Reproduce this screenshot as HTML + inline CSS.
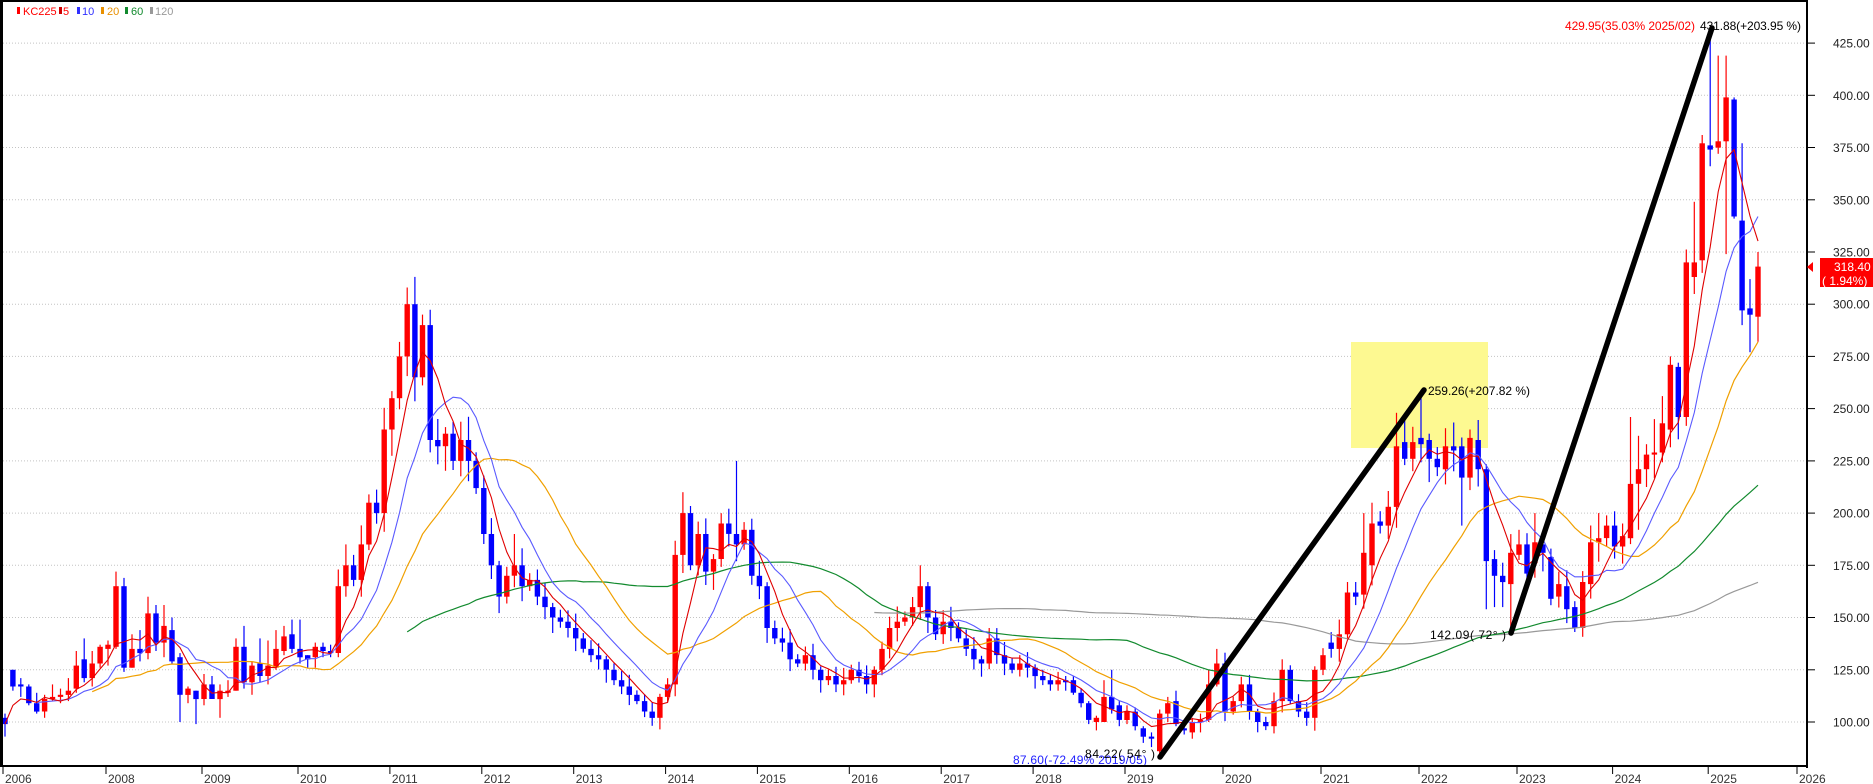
<!DOCTYPE html>
<html><head><meta charset="utf-8"><style>
html,body{margin:0;padding:0;background:#fff;overflow:hidden}
svg{display:block}
text{font-family:"Liberation Sans",sans-serif}
</style></head><body>
<svg id="c" width="1873" height="784" viewBox="0 0 1873 784" xmlns="http://www.w3.org/2000/svg"></svg>
<script>
(function(){
var X=[[0,5],[13,108],[25,204],[37,300],[145,1127],[193,1519],[223,1758],[229,1806]];
function xm(m){for(var k=0;k<X.length-1;k++){var a=X[k],b=X[k+1];if(m<=b[0]){return a[1]+(m-a[0])*(b[1]-a[1])/(b[0]-a[0]);}}return 1806;}
function yv(v){return 722-(v-100)*2.089;}
var D=[];
var A=[[102,104,93,99],[125,125,115,117],[118,121,112,117],[117,118,108,109],[109,114,104,105],[105,113,102,111],[111,118,110,112],[112,116,109,113],[113,121,110,115],[116,134,114,127],[130,140,119,121],[121,134,117,128],[128,137,126,136],[135,139,127,137],[136,172,135,165],[165,169,124,126],[126,142,126,135],[135,144,129,133],[133,160,130,152],[152,156,134,138],[138,156,131,146],[144,150,128,129],[131,133,100,113],[113,117,109,116],[115,115,99,111],[111,123,108,118],[118,122,113,111],[111,118,102,115],[114,120,112,115],[115,140,115,136],[136,146,116,119],[119,129,113,127],[128,140,119,122],[122,139,118,127],[126,144,125,135],[134,146,132,141],[142,149,133,135],[135,149,128,131],[132,132,126,130],[131,138,126,136],[136,138,131,134],[134,137,131,133],[133,173,131,165],[165,185,160,175],[175,180,165,168]];
A.forEach(function(r){D.push(r);});
function wick(i,v){return (2+((i*37)%7)*0.9)*v/150;}
function addC(closes,hov){var prev=D[D.length-1][3];closes.forEach(function(c){var i=D.length,o=prev;var h=Math.max(o,c)+wick(i,c),l=Math.min(o,c)-wick(i+3,c);if(hov&&hov[i]!==undefined)h=hov[i];D.push([o,h,l,c]);prev=c;});}
addC([185,205,200,240,255,275,300,265,290,235,232,238,225,235,225,212,190,175,160,170,175,165,168,160,155,150,148,145,140,135,132,130,125,120,117,113,110,105,102,112,118,180,200,175,190,172,178,195,190,185,192,170,165,145,140,138,130,128,132,125,120,122,118,120,125,122,118,125,135,145,148,150,155,165,150,142,148,145,140,135,130,128,140,132,128,125,128,126,122,120],{51:308,53:295,65:190,87:210,94:225,118:175,127:145});
var B=[[120,123,115,118],[118,124,115,120],[120,122,115,119],[120,122,113,114],[114,116,107,109],[109,110,99,101],[100,103,96,102],[100,120,100,112],[112,125,104,106],[108,110,98,101],[101,108,99,105],[105,107,96,98],[97,98,90,93],[93,95,88,92],[86,106,84,104],[104,112,100,109],[110,115,98,99],[97,100,94,96],[95,102,92,100],[100,104,95,101],[101,125,100,118],[118,135,117,128]];
B.forEach(function(r){D.push(r);});
addC([105,110,118,105,100,98,110,125,110,105,102,125,132],{164:130});
var E=[[138,135],[135,142],[142,162,167],[162,160],[161,181,200],[175,195,205],[196,194],[194,203],[203,232,248],[234,226,245],[226,234],[236,233,259],[235,226],[226,222],[221,232],[232,230],[232,217,null,194],[217,236,240],[235,221],[221,177,null,154],[178,170,null,155],[170,167,null,155],[166,181,null,142],[180,185,192],[185,171],[176,186,200],[185,181],[179,159],[160,166,172],[165,154],[155,145],[145,167],[166,186],[186,188,200],[188,194],[194,184],[184,189,195],[188,214,246],[214,221,237,192],[221,228,233],[228,229,245],[229,243,256],[240,271,275],[270,246,272],[246,320],[313,320,349],[321,377,381,315],[376,374,430,366],[375,378,419,372],[378,399,419,324],[398,342,399,341],[340,297,377,290],[298,295,312,277],[294,318,325,282]];
E.forEach(function(r){var i=D.length,o=r[0],c=r[1];var h=(r[2]!=null)?r[2]:Math.max(o,c)+wick(i,c);var l=(r[3]!=null)?r[3]:Math.min(o,c)-wick(i+3,c);D.push([o,h,l,c]);});

var s='';
s+='<rect x="0" y="0" width="1873" height="784" fill="#fff"/>';
for(var v=100;v<=425;v+=25){var y=yv(v).toFixed(1);s+='<line x1="3" y1="'+y+'" x2="1807" y2="'+y+'" stroke="#c4c4c4" stroke-width="1" stroke-dasharray="1,2"/>';
s+='<line x1="1807" y1="'+y+'" x2="1815" y2="'+y+'" stroke="#000" stroke-width="1"/>';
s+='<text x="1833" y="'+(+y+4.5)+'" font-size="12" fill="#222">'+v.toFixed(2)+'</text>';}
s+='<rect x="1351" y="342" width="137" height="106" fill="#fdf991"/>';
for(var i=0;i<D.length;i++){var d=D[i],x=xm(i),o=d[0],h=d[1],l=d[2],c=d[3];var col=c>=o?'#ff0000':'#0000ff';
s+='<line x1="'+x.toFixed(1)+'" y1="'+yv(h).toFixed(1)+'" x2="'+x.toFixed(1)+'" y2="'+yv(l).toFixed(1)+'" stroke="'+col+'" stroke-width="1.2"/>';
var t=yv(Math.max(o,c)),b=yv(Math.min(o,c));if(b-t<2){t-=1;b=t+2.5;}
s+='<rect x="'+(x-2.7).toFixed(1)+'" y="'+t.toFixed(1)+'" width="5.4" height="'+(b-t).toFixed(1)+'" fill="'+col+'"/>';}
function ma(p,col,w,st){var pts=[];for(var i=st;i<D.length;i++){var sm=0,n=0;for(var k=Math.max(0,i-p+1);k<=i;k++){sm+=D[k][3];n++;}pts.push(xm(i).toFixed(1)+','+yv(sm/n).toFixed(1));}
s+='<polyline points="'+pts.join(' ')+'" fill="none" stroke="'+col+'" stroke-width="'+w+'"/>';}
ma(120,'#999999',1.2,112);ma(60,'#128a2e',1.2,51);ma(20,'#f0a000',1.2,11);ma(10,'#5a5aff',1.1,4);ma(5,'#e00000',1.1,0);
s+='<line x1="1160" y1="757" x2="1424" y2="390" stroke="#000" stroke-width="5.5" stroke-linecap="round"/>';
s+='<line x1="1511" y1="633" x2="1712" y2="28" stroke="#000" stroke-width="5.5" stroke-linecap="round"/>';
s+='<text x="1428" y="395" font-size="12" fill="#000" textLength="102">259.26(+207.82 %)</text>';
s+='<text x="1430" y="639" font-size="12" fill="#000" textLength="76">142.09( 72° )</text>';
s+='<text x="1013" y="764" font-size="12" fill="#2020ff" textLength="134">87.60(-72.49% 2019/05)</text>';
s+='<text x="1085" y="758" font-size="12" fill="#000" textLength="70">84.22( 54° )</text>';
s+='<text x="1565" y="30" font-size="12" fill="#ff0000" textLength="130">429.95(35.03% 2025/02)</text>';
s+='<text x="1700" y="30" font-size="12" fill="#000" textLength="101">431.88(+203.95 %)</text>';
s+='<rect x="0" y="0" width="3" height="766" fill="#000"/>';
s+='<rect x="0" y="0" width="1808" height="2" fill="#000"/>';
s+='<rect x="1806" y="0" width="2" height="768" fill="#000"/>';
s+='<rect x="0" y="765" width="1808" height="2" fill="#000"/>';
s+='<polygon points="1807,267 1813,262 1813,272" fill="#ff0000"/>';
s+='<rect x="1820" y="258" width="53" height="29" fill="#ff0000"/>';
s+='<text x="1834" y="271" font-size="12" fill="#fff">318.40</text>';
s+='<text x="1822" y="285" font-size="12" fill="#fff">( 1.94%)</text>';
var yrs=[[2006,3]];for(var Y=2008;Y<=2025;Y++){yrs.push([Y,xm(13+12*(Y-2008))-2]);}yrs.push([2026,1797]);
yrs.forEach(function(p){var x=p[1].toFixed(1);s+='<line x1="'+x+'" y1="766" x2="'+x+'" y2="774" stroke="#000" stroke-width="1"/>';
s+='<text x="'+(p[1]+2).toFixed(1)+'" y="783" font-size="12" fill="#333">'+p[0]+'</text>';});
var lg=[[17,'#ff0000',23,'KC225','#ff0000'],[59,'#d00000',63,'5','#ff0000'],[77,'#3030ff',82,'10','#3030ff'],[101,'#e89000',107,'20','#e89000'],[125,'#128a2e',131,'60','#128a2e'],[150,'#999',155,'120','#999']];
lg.forEach(function(q){s+='<rect x="'+q[0]+'" y="7" width="3" height="7" fill="'+q[1]+'"/><text x="'+q[2]+'" y="15" font-size="11" fill="'+q[4]+'">'+q[3]+'</text>';});
document.getElementById('c').innerHTML=s;
})();
</script>
</body></html>
